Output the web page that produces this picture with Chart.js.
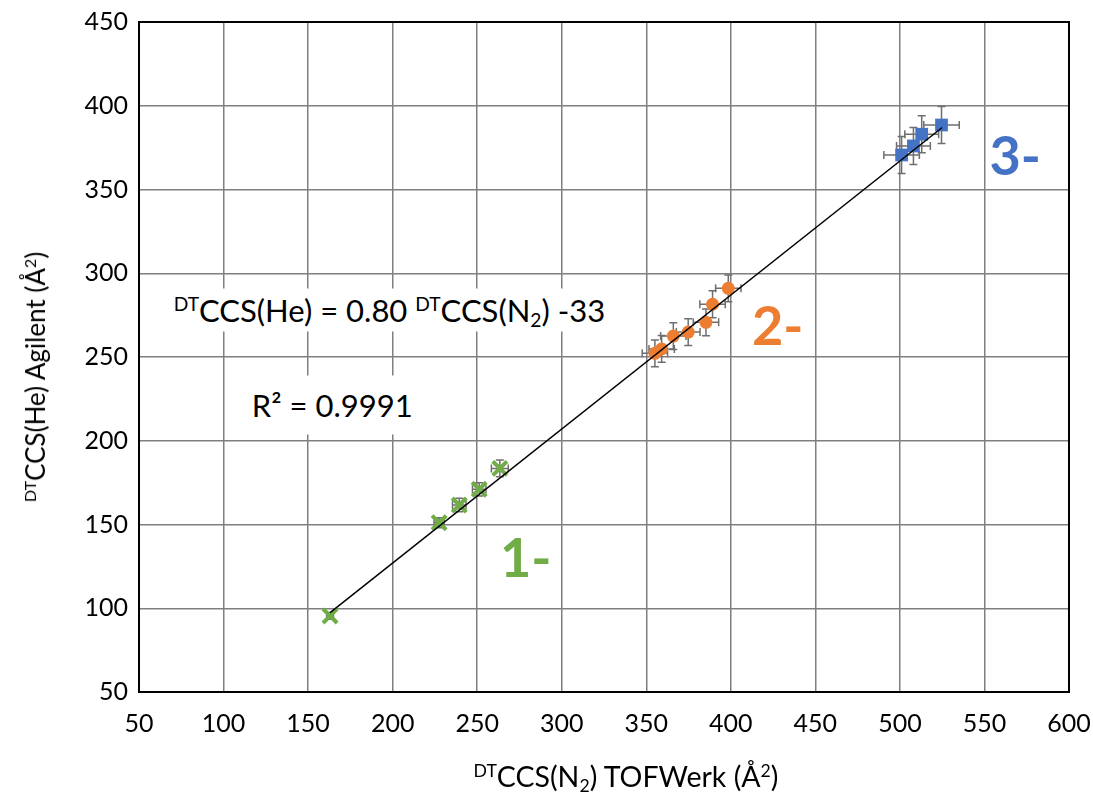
<!DOCTYPE html>
<html>
<head>
<meta charset="utf-8">
<script src="https://cdn.jsdelivr.net/npm/chart.js@4/dist/chart.umd.min.js"></script>
<style>
  html, body { margin: 0; padding: 0; background: #fff; }
  #wrap { position: relative; width: 1093px; height: 798px; font-family: Lato, "Open Sans", sans-serif; color: #000; }
  #wrap canvas { position: absolute; left: 0; top: 0; }
  .note { position: absolute; white-space: nowrap; background: #fff; line-height: 1; }
  .note sup, .axis-title sup { font-size: 62%; vertical-align: 0.55em; line-height: 0; }
  .note sub, .axis-title sub { font-size: 62%; vertical-align: -0.3em; line-height: 0; }
  .group { position: absolute; white-space: nowrap; font-weight: bold; line-height: 1; }
  .axis-title { position: absolute; white-space: nowrap; line-height: 1; }
</style>
</head>
<body>
<div id="wrap">
  <canvas id="ccs-chart" width="1093" height="798"></canvas>
</div>
<script>
// ---- data ----
const xTicks = [50, 100, 150, 200, 250, 300, 350, 400, 450, 500, 550, 600];
const yTicks = [50, 100, 150, 200, 250, 300, 350, 400, 450];

const group1X = [163, 227.5, 239.4, 251.2, 263.4];
const group1Y = [95.4, 151.1, 161.6, 171, 183.5];
const group1ErrX = [2, 3, 4, 4, 5];
const group1ErrY = [2, 3, 4, 4, 5];

const group2X = [355.1, 359.1, 366, 374.8, 385.3, 389.2, 398.5];
const group2Y = [252.2, 254.8, 262.5, 264.9, 270.7, 281.5, 291];
const group2ErrX = [7.5, 7.5, 7.5, 7, 7.5, 7.5, 7.5];
const group2ErrY = [8, 8, 8, 8, 8, 8, 8];

const group3X = [501, 508, 512.9, 524.6];
const group3Y = [370.6, 376, 383, 388.5];
const group3ErrX = [10.5, 10, 10, 10.5];
const group3ErrY = [11, 11, 11, 11];

const fitSlope = 0.80;
const fitIntercept = -33;
const fitRange = [163, 525];

const groupLabels = ['1-', '2-', '3-'];
const groupColors = ['#70AD47', '#ED7D31', '#4472C4'];

(function () {
  const toPoints = (xs, ys, ex, ey) => xs.map((x, i) => ({ x: x, y: ys[i], ex: ex[i], ey: ey[i] }));

  // ---- error bars, drawn behind the markers ----
  const errorBars = {
    id: 'errorBars',
    beforeDatasetsDraw(chart) {
      const { ctx, scales: { x, y } } = chart;
      ctx.save();
      ctx.strokeStyle = '#6f6f6f';
      ctx.lineWidth = 1.5;
      const cap = 4;
      chart.data.datasets.forEach((ds) => {
        if (!ds.errorBars) return;
        ds.data.forEach((p) => {
          const px = x.getPixelForValue(p.x);
          const py = y.getPixelForValue(p.y);
          const x0 = x.getPixelForValue(p.x - p.ex), x1 = x.getPixelForValue(p.x + p.ex);
          const y0 = y.getPixelForValue(p.y - p.ey), y1 = y.getPixelForValue(p.y + p.ey);
          ctx.beginPath();
          ctx.moveTo(x0, py); ctx.lineTo(x1, py);
          ctx.moveTo(x0, py - cap); ctx.lineTo(x0, py + cap);
          ctx.moveTo(x1, py - cap); ctx.lineTo(x1, py + cap);
          ctx.moveTo(px, y0); ctx.lineTo(px, y1);
          ctx.moveTo(px - cap, y0); ctx.lineTo(px + cap, y0);
          ctx.moveTo(px - cap, y1); ctx.lineTo(px + cap, y1);
          ctx.stroke();
        });
      });
      ctx.restore();
    },
  };

  // ---- black frame round the plot area ----
  const frame = {
    id: 'frame',
    afterDraw(chart) {
      const { ctx, chartArea: a } = chart;
      ctx.save();
      ctx.strokeStyle = '#000';
      ctx.lineWidth = 2;
      ctx.strokeRect(a.left, a.top, a.right - a.left, a.bottom - a.top);
      ctx.restore();
    },
  };

  const tickFont = { family: 'Lato', size: 25 };

  const chart = new Chart(document.getElementById('ccs-chart'), {
    type: 'scatter',
    data: {
      datasets: [
        {
          type: 'line',
          data: fitRange.map((v) => ({ x: v, y: fitSlope * v + fitIntercept })),
          borderColor: '#000',
          borderWidth: 1.5,
          pointRadius: 0,
          fill: false,
        },
        {
          data: toPoints(group1X, group1Y, group1ErrX, group1ErrY),
          errorBars: true,
          pointStyle: 'crossRot',
          pointRadius: 10,
          borderColor: groupColors[0],
          borderWidth: 4,
        },
        {
          data: toPoints(group2X, group2Y, group2ErrX, group2ErrY),
          errorBars: true,
          pointStyle: 'circle',
          pointRadius: 6.5,
          backgroundColor: groupColors[1],
          borderWidth: 0,
        },
        {
          data: toPoints(group3X, group3Y, group3ErrX, group3ErrY),
          errorBars: true,
          pointStyle: 'rect',
          pointRadius: 9,
          backgroundColor: groupColors[2],
          borderWidth: 0,
        },
      ],
    },
    options: {
      responsive: false,
      animation: false,
      layout: { padding: { left: 0, top: 22, right: 24, bottom: 0 } },
      plugins: { legend: { display: false }, tooltip: { enabled: false } },
      scales: {
        x: {
          type: 'linear',
          min: 50,
          max: 600,
          afterBuildTicks: (s) => { s.ticks = xTicks.map((v) => ({ value: v })); },
          afterFit: (s) => { s.height = 106; s.paddingLeft = 0; s.paddingRight = 0; },
          grid: { color: '#7f7f7f', lineWidth: 1.5, drawTicks: false },
          border: { display: false },
          ticks: { color: '#000', font: tickFont, padding: 17, maxRotation: 0 },
        },
        y: {
          type: 'linear',
          min: 50,
          max: 450,
          afterBuildTicks: (s) => { s.ticks = yTicks.map((v) => ({ value: v })); },
          afterFit: (s) => { s.width = 139; s.paddingTop = 0; s.paddingBottom = 0; },
          grid: { color: '#7f7f7f', lineWidth: 1.5, drawTicks: false },
          border: { display: false },
          ticks: { color: '#000', font: tickFont, padding: 11 },
        },
      },
    },
    plugins: [errorBars, frame],
  });

  // ---- text overlays placed from the chart scales ----
  const wrap = document.getElementById('wrap');
  const sx = chart.scales.x, sy = chart.scales.y, area = chart.chartArea;

  function addNote(html, cls, xVal, yVal, style) {
    const el = document.createElement('div');
    el.className = cls;
    el.innerHTML = html;
    el.style.left = `${sx.getPixelForValue(xVal)}px`;
    el.style.top = `${sy.getPixelForValue(yVal)}px`;
    el.style.transform = 'translateY(-50%)';
    Object.assign(el.style, style || {});
    wrap.appendChild(el);
    return el;
  }

  addNote('<sup>DT</sup>CCS(He) = 0.80 <sup>DT</sup>CCS(N<sub>2</sub>) -33', 'note', 67, 278,
    { fontSize: '31px', padding: '6px 6px' });
  addNote('R² = 0.9991', 'note', 112, 221.3, { fontSize: '31px', padding: '14px 8px' });

  const groupAnchors = [[263.5, 130.6], [412.5, 269], [553, 370.6]];
  groupLabels.forEach((t, i) => {
    addNote(t, 'group', groupAnchors[i][0], groupAnchors[i][1], { color: groupColors[i], fontSize: '54px' });
  });

  const xTitle = document.createElement('div');
  xTitle.className = 'axis-title';
  xTitle.innerHTML = '<sup>DT</sup>CCS(N<sub>2</sub>) TOFWerk (Å<sup>2</sup>)';
  xTitle.style.fontSize = '28.5px';
  xTitle.style.left = `${(area.left + area.right) / 2 + 22}px`;
  xTitle.style.top = '776px';
  xTitle.style.transform = 'translate(-50%, -50%)';
  wrap.appendChild(xTitle);

  const yTitle = document.createElement('div');
  yTitle.className = 'axis-title';
  yTitle.innerHTML = '<sup>DT</sup>CCS(He) Agilent (Å<sup>2</sup>)';
  yTitle.style.fontSize = '26px';
  yTitle.style.left = '35px';
  yTitle.style.top = `${(area.top + area.bottom) / 2 + 20}px`;
  yTitle.style.transform = 'translate(-50%, -50%) rotate(-90deg)';
  wrap.appendChild(yTitle);
})();
</script>
</body>
</html>
